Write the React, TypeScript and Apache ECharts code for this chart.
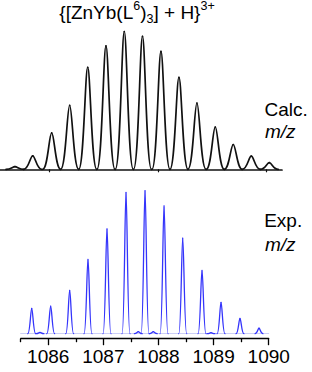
import React, { useEffect, useRef } from "react";
import * as echarts from "echarts";

// Calculated isotope pattern (m/z, relative intensity)
const calcMz = [1085.369, 1085.695, 1086.044, 1086.375, 1086.707, 1087.043, 1087.38, 1087.715, 1088.055, 1088.386, 1088.717, 1089.054, 1089.385, 1089.717, 1090.048];
const calcInt = [1.9, 9.8, 26.4, 46.4, 74.0, 89.5, 100, 96.4, 85.6, 66.8, 48.1, 30.7, 18.0, 9.6, 4.8];

// Experimental isotope pattern (m/z, relative intensity)
const expMz = [1085.7, 1085.85, 1086.044, 1086.389, 1086.721, 1087.066, 1087.411, 1087.634, 1087.756, 1087.906, 1088.101, 1088.44, 1088.79, 1088.953, 1089.135, 1089.479, 1089.824];
const expInt = [17.7, 0.9, 19.3, 30.2, 52.0, 73.3, 98.8, 1.4, 100, 1.4, 89.4, 66.8, 44.3, 0.7, 21.9, 10.7, 3.8];

// Axis ticks / labels
const tickLabels = [1086, 1087, 1088, 1089, 1090];
const halfTicks = [1085.5, 1086.5, 1087.5, 1088.5, 1089.5];
const calcTicks = [1086, 1088, 1090];

const FONT = "'Liberation Sans', Arial, Helvetica, sans-serif";

function peakRenderer(sigma: number, color: string, width: number) {
  return (params: any, api: any) => {
    const mz = api.value(0);
    const it = api.value(1);
    const top = api.coord([mz, it]);
    const base = api.coord([mz, 0]);
    const s = sigma;
    const style = { stroke: color, lineWidth: width, fill: "none", lineCap: "round", lineJoin: "round" };
    return {
      type: "group",
      children: [
        {
          type: "bezierCurve",
          shape: {
            x1: base[0] - 3 * s, y1: base[1],
            cpx1: base[0] - 1.289 * s, cpy1: base[1],
            cpx2: top[0] - 0.845 * s, cpy2: top[1],
            x2: top[0], y2: top[1],
          },
          style,
        },
        {
          type: "bezierCurve",
          shape: {
            x1: top[0], y1: top[1],
            cpx1: top[0] + 0.845 * s, cpy1: top[1],
            cpx2: base[0] + 1.289 * s, cpy2: base[1],
            x2: base[0] + 3 * s, y2: base[1],
          },
          style,
        },
      ],
    };
  };
}

export default function App() {
  const ref = useRef<HTMLDivElement>(null);
  useEffect(() => {
    if (!ref.current) return;
    const chart = echarts.init(ref.current, null, { renderer: "svg" });
    const calcData = calcMz.map((m, i) => [m, calcInt[i]]);
    const expData = expMz.map((m, i) => [m, expInt[i]]);
    chart.setOption({
      animation: false,
      grid: [
        { left: 0, width: 282, top: 31.5, bottom: 202.7, containLabel: false },
        { left: 20.7, right: 43.3, top: 190.7, bottom: 33.3, containLabel: false },
      ],
      xAxis: [
        {
          gridIndex: 0,
          type: "value",
          position: "bottom",
          min: 1085.093,
          max: 1090.282,
          axisLine: { show: true, onZero: false, lineStyle: { color: "#111", width: 1.7 } },
          axisTick: { show: true, customValues: calcTicks, length: 3, lineStyle: { color: "#111", width: 1.2 } },
          axisLabel: { show: false },
          splitLine: { show: false },
        },
        {
          gridIndex: 1,
          type: "value",
          position: "bottom",
          min: 1085.5,
          max: 1090,
          axisLine: { show: true, onZero: false, lineStyle: { color: "#000", width: 1.3 } },
          axisTick: { show: true, customValues: halfTicks, length: 3.5, lineStyle: { color: "#000", width: 1.3 } },
          axisLabel: { show: false },
          splitLine: { show: false },
        },
        {
          gridIndex: 1,
          type: "value",
          position: "bottom",
          min: 1085.5,
          max: 1090,
          axisLine: { show: false, onZero: false },
          axisTick: { show: true, customValues: tickLabels, length: 6.5, lineStyle: { color: "#000", width: 1.3 } },
          axisLabel: {
            show: true,
            customValues: tickLabels,
            margin: 8,
            fontSize: 19,
            fontFamily: FONT,
            color: "#000",
            formatter: (v: number) => String(v),
          },
          splitLine: { show: false },
        },
        {
          gridIndex: 1,
          type: "value",
          position: "bottom",
          min: 1085.5,
          max: 1090,
          axisLine: { show: true, onZero: true, lineStyle: { color: "#cdd0f6", width: 1 } },
          axisTick: { show: false },
          axisLabel: { show: false },
          splitLine: { show: false },
        },
      ],
      yAxis: [
        { gridIndex: 0, type: "value", min: 0, max: 100, show: false, splitLine: { show: false } },
        { gridIndex: 1, type: "value", min: -3.5, max: 100, show: false, splitLine: { show: false } },
      ],
      graphic: [
        {
          type: "text",
          x: 137,
          y: -1,
          style: {
            text: "{[ZnYb(L{sp|6})" + "{sb|3}] + H}{sp|3+}",
            fontSize: 19,
            fontFamily: FONT,
            fill: "#000",
            align: "center",
            verticalAlign: "top",
            lineHeight: 26,
            rich: {
              sp: { fontSize: 12.5, lineHeight: 13, verticalAlign: "top", fontFamily: FONT, fill: "#000" },
              sb: { fontSize: 12.5, lineHeight: 13, verticalAlign: "bottom", fontFamily: FONT, fill: "#000" },
            },
          },
        },
        {
          type: "text", x: 264.5, y: 109.7,
          style: { text: "Calc.", fontSize: 19, fontFamily: FONT, fill: "#000", align: "left", verticalAlign: "middle" },
        },
        {
          type: "text", x: 265, y: 131.5,
          style: { text: "m/z", fontSize: 19, fontStyle: "italic", fontFamily: FONT, fill: "#000", align: "left", verticalAlign: "middle" },
        },
        {
          type: "text", x: 264.2, y: 220.5,
          style: { text: "Exp.", fontSize: 19, fontFamily: FONT, fill: "#000", align: "left", verticalAlign: "middle" },
        },
        {
          type: "text", x: 265, y: 244.9,
          style: { text: "m/z", fontSize: 19, fontStyle: "italic", fontFamily: FONT, fill: "#000", align: "left", verticalAlign: "middle" },
        },
      ],
      series: [
        {
          name: "Calc.",
          type: "custom",
          coordinateSystem: "cartesian2d",
          xAxisIndex: 0,
          yAxisIndex: 0,
          data: calcData,
          encode: { x: 0, y: 1 },
          renderItem: peakRenderer(3.0, "#111", 1.7),
          silent: true,
        },
        {
          name: "Exp.",
          type: "custom",
          coordinateSystem: "cartesian2d",
          xAxisIndex: 1,
          yAxisIndex: 1,
          data: expData,
          encode: { x: 0, y: 1 },
          renderItem: peakRenderer(1.3, "#3434fb", 1.3),
          silent: true,
        },
      ],
    });
    return () => chart.dispose();
  }, []);
  return <div ref={ref} style={{ position: "absolute", left: 0, top: 0, width: 312, height: 372 }} />;
}
